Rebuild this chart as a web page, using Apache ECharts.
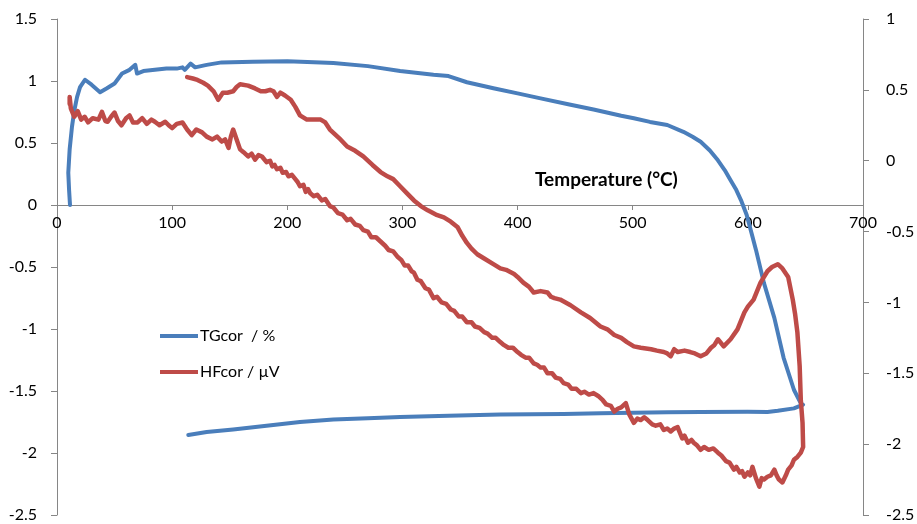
<!DOCTYPE html>
<html>
<head>
<meta charset="utf-8">
<script src="https://cdn.jsdelivr.net/npm/echarts@6/dist/echarts.min.js"></script>
<style>
html,body{margin:0;padding:0;background:#fff;}
#c{width:917px;height:524px;}
</style>
</head>
<body>
<div id="c"></div>
<script>
// Temperature ticks (x) and axis ticks
const xTicks = [0, 100, 200, 300, 400, 500, 600, 700];
const leftTicks = [-2.5, -2, -1.5, -1, -0.5, 0, 0.5, 1, 1.5];
const rightTicks = [-2.5, -2, -1.5, -1, -0.5, 0, 0.5, 1];

// TGcor / % : [temperature, value] (heating then cooling)
const tgHeating = [
  [11.3,0],[10.5,0.12],[9.8,0.26],[11,0.45],[13,0.63],[15,0.76],[17.4,0.87],[20,0.95],[24.3,1.01],
  [30,0.97],[37.4,0.91],[43,0.94],[50,0.98],[56.5,1.06],[63,1.09],[68,1.13],[69.5,1.06],
  [75,1.08],[85,1.09],[95,1.10],[104,1.10],[109,1.11],[111,1.09],[116,1.14],[120,1.11],
  [130,1.13],[143,1.15],[170,1.155],[200,1.16],[229,1.15],[240,1.145],[270,1.12],[298,1.08],
  [327,1.05],[340,1.04],[356,0.99],[380,0.94],[400,0.90],[420,0.86],[445,0.81],[466,0.77],
  [490,0.72],[501,0.70],[515,0.67],[530,0.645],[544,0.59],[552,0.55],[559,0.51],[567,0.44],
  [574,0.36],[580,0.28],[585,0.20],[590,0.12],[594,0.04],[599,-0.08],[603,-0.22],[607,-0.36],
  [614,-0.63],[623,-0.91],[631,-1.23],[640,-1.49],[646,-1.60],[648,-1.61]
];
const tgCooling = [
  [640,-1.64],[626,-1.66],[617,-1.67],[600,-1.668],[559,-1.67],[530,-1.672],[500,-1.676],
  [472,-1.68],[440,-1.685],[385,-1.69],[340,-1.70],[298,-1.71],[270,-1.72],[240,-1.73],
  [211,-1.75],[182,-1.78],[153,-1.81],[130,-1.83],[114,-1.855]
];

// HFcor / µV : [temperature, value] (heating branch, rise, cooling branch)
const hfHeating = [
  [11,0.40],[11,0.45],[12,0.37],[15,0.31],[18,0.35],[21,0.29],[24,0.31],[27,0.27],[31,0.30],
  [36,0.29],[39,0.345],[42,0.28],[44,0.275],[47,0.31],[50,0.34],[53,0.28],[56,0.25],[60,0.30],
  [63,0.32],[66,0.27],[70,0.27],[74,0.30],[78,0.26],[82,0.29],[85,0.275],[89,0.25],[94,0.275],
  [97,0.25],[100,0.23],[104,0.26],[109,0.27],[113,0.22],[117,0.18],[121,0.22],[126,0.20],
  [130,0.17],[135,0.15],[139,0.17],[143,0.135],[146,0.15],[149,0.09],[151,0.17],[153,0.22],
  [156,0.15],[159,0.08],[162,0.06],[166,0.03],[169,0.05],[172,0.007],[175,0.04],[178,0.03],
  [182,-0.01],[185,0.0],[187,-0.04],[189,-0.03],[191,-0.06],[194,-0.05],[196,-0.085],[199,-0.08],
  [201,-0.11],[204,-0.10],[207,-0.13],[209,-0.15],[211,-0.18],[214,-0.17],[216,-0.22],
  [218,-0.20],[220,-0.23],[223,-0.25],[226,-0.24],[230,-0.28],[233,-0.27],[237,-0.32],
  [240,-0.33],[244,-0.37],[248,-0.38],[252,-0.42],[255,-0.41],[259,-0.45],[263,-0.46],
  [266,-0.49],[270,-0.50],[273,-0.54],[277,-0.54],[281,-0.57],[285,-0.60],[288,-0.63],
  [292,-0.64],[296,-0.68],[299,-0.70],[302,-0.74],[305,-0.74],[308,-0.78],[310,-0.79],
  [313,-0.84],[316,-0.85],[320,-0.90],[323,-0.91],[327,-0.97],[330,-0.96],[334,-1.00],
  [338,-1.01],[342,-1.05],[345,-1.06],[349,-1.10],[352,-1.10],[356,-1.14],[360,-1.14],
  [363,-1.17],[367,-1.18],[371,-1.21],[374,-1.22],[378,-1.25],[381,-1.25],[385,-1.28],
  [388,-1.30],[392,-1.32],[396,-1.32],[400,-1.35],[403,-1.37],[407,-1.39],[410,-1.39],
  [414,-1.43],[417,-1.44],[420,-1.46],[423,-1.46],[426,-1.50],[430,-1.50],[433,-1.53],
  [437,-1.54],[440,-1.57],[444,-1.58],[447,-1.61],[451,-1.61],[455,-1.64],[458,-1.63],
  [462,-1.65],[466,-1.64],[470,-1.66],[474,-1.69],[477,-1.72],[481,-1.73],[484,-1.77],
  [487,-1.75],[490,-1.74],[494,-1.71],[497,-1.79],[501,-1.85],[504,-1.82],[507,-1.83],
  [510,-1.81],[513,-1.83],[517,-1.86],[520,-1.87],[524,-1.86],[527,-1.90],[530,-1.89],
  [533,-1.91],[536,-1.89],[539,-1.88],[543,-1.96],[545,-1.94],[548,-1.99],[551,-1.97],
  [553,-1.99],[556,-2.01],[559,-2.04],[562,-2.02],[566,-2.04],[570,-2.03],[574,-2.06],
  [577,-2.08],[581,-2.12],[584,-2.13],[588,-2.18],[590,-2.16],[593,-2.20],[595,-2.19],
  [597,-2.23],[600,-2.20],[602,-2.22],[604,-2.16],[607,-2.24],[610,-2.30],[612,-2.24],
  [614,-2.25],[617,-2.23],[620,-2.22],[623,-2.18],[625,-2.22],[627,-2.25],[630,-2.27],
  [633,-2.22],[635,-2.18],[638,-2.15],[640,-2.11],[643,-2.09],[646,-2.06],[648,-2.02]
];
const hfRise = [
  [647.5,-1.85],[646,-1.69],[645,-1.45],[643,-1.21],[641,-1.08],[639,-0.98],[635,-0.82],
  [630,-0.76],[626,-0.73]
];
const hfCooling = [
  [621,-0.75],[617,-0.78],[611,-0.86],[605,-0.98],[600,-1.03],[597,-1.07],[591,-1.19],
  [585,-1.26],[579,-1.31],[574,-1.26],[571,-1.30],[568,-1.32],[564,-1.36],[559,-1.38],
  [554,-1.36],[550,-1.35],[545,-1.34],[539,-1.35],[536,-1.33],[533,-1.38],[530,-1.36],
  [527,-1.35],[521,-1.34],[516,-1.33],[507,-1.32],[501,-1.31],[495,-1.28],[490,-1.25],
  [484,-1.23],[478,-1.19],[472,-1.17],[463,-1.11],[455,-1.07],[446,-1.02],[437,-0.98],
  [432,-0.97],[429,-0.96],[426,-0.93],[420,-0.92],[414,-0.93],[410,-0.89],[405,-0.86],
  [400,-0.82],[397,-0.80],[390,-0.77],[385,-0.76],[379,-0.73],[371,-0.69],[365,-0.66],
  [360,-0.62],[356,-0.58],[352,-0.53],[348,-0.47],[342,-0.43],[336,-0.40],[329,-0.38],
  [322,-0.35],[316,-0.32],[310,-0.28],[304,-0.23],[298,-0.18],[292,-0.13],[287,-0.11],
  [281,-0.08],[274,-0.03],[266,0.03],[259,0.07],[252,0.10],[245,0.16],[237,0.22],[233,0.27],
  [229,0.29],[223,0.29],[217,0.29],[211,0.32],[207,0.38],[203,0.43],[198,0.46],[194,0.48],
  [191,0.45],[188,0.49],[185,0.50],[181,0.49],[177,0.49],[172,0.51],[166,0.53],[159,0.54],
  [156,0.52],[153,0.49],[148,0.48],[144,0.48],[140,0.43],[136,0.49],[131,0.53],[127,0.55],
  [122,0.57],[118,0.58],[113,0.59]
];

const seriesNames = ['TGcor  / %', 'HFcor / µV'];
const xTitle = 'Temperature (°C)';

const FONT = 'Lato, "Open Sans", sans-serif';
const BLUE = '#4A7EBB';
const RED = '#BE4B48';
const AXIS = '#868686';

const GRID_TOP = 19, GRID_BOTTOM = 9, H = 524;
const plotH = H - GRID_TOP - GRID_BOTTOM;
// pixel offset that lifts the x axis from the grid bottom up to left-axis value 0
const zeroLift = plotH * (0 - leftTicks[0]) / (leftTicks[leftTicks.length-1] - leftTicks[0]);

const chart = echarts.init(document.getElementById('c'), null, {renderer: 'canvas'});
chart.setOption({
  animation: false,
  backgroundColor: '#fff',
  grid: {left: 57, right: 54, top: GRID_TOP, bottom: GRID_BOTTOM, containLabel: false, outerBoundsMode: 'none'},
  legend: {
    orient: 'vertical', left: 155, top: 321, itemGap: 16,
    icon: 'rect', itemWidth: 38, itemHeight: 4,
    textStyle: {fontFamily: FONT, fontSize: 16, color: '#000', lineHeight: 20, padding: [0,0,0,-3]},
    data: seriesNames
  },
  graphic: [{
    type: 'text', left: 535, top: 170,
    style: {text: xTitle, font: 'bold 19px ' + FONT, fill: '#000'}
  }],
  xAxis: {
    type: 'value', min: xTicks[0], max: xTicks[xTicks.length-1], interval: 100,
    position: 'bottom', offset: -zeroLift,
    axisLine: {show: true, onZero: false, lineStyle: {color: AXIS, width: 1}},
    axisTick: {show: true, length: 5, lineStyle: {color: AXIS}},
    axisLabel: {fontFamily: FONT, fontSize: 16, color: '#000', margin: 10},
    splitLine: {show: false}
  },
  yAxis: [{
    type: 'value', min: leftTicks[0], max: leftTicks[leftTicks.length-1], interval: 0.5,
    position: 'left',
    axisLine: {show: true, onZero: false, lineStyle: {color: AXIS, width: 1}},
    axisTick: {show: true, length: 6, lineStyle: {color: AXIS}},
    axisLabel: {fontFamily: FONT, fontSize: 16, color: '#000', margin: 20},
    splitLine: {show: false}
  }, {
    type: 'value', min: rightTicks[0], max: rightTicks[rightTicks.length-1], interval: 0.5,
    position: 'right',
    axisLine: {show: true, onZero: false, lineStyle: {color: AXIS, width: 1}},
    axisTick: {show: true, length: 6, lineStyle: {color: AXIS}},
    axisLabel: {fontFamily: FONT, fontSize: 16, color: '#000', margin: 23},
    splitLine: {show: false}
  }],
  series: [{
    name: seriesNames[0], type: 'line', yAxisIndex: 0, showSymbol: false, symbol: 'none',
    color: BLUE, lineStyle: {color: BLUE, width: 4, join: 'round', cap: 'round'},
    data: tgHeating.concat(tgCooling)
  }, {
    name: seriesNames[1], type: 'line', yAxisIndex: 1, showSymbol: false, symbol: 'none',
    color: RED, lineStyle: {color: RED, width: 4.5, join: 'round', cap: 'round'},
    data: hfHeating.concat(hfRise, hfCooling)
  }]
});
</script>
</body>
</html>
